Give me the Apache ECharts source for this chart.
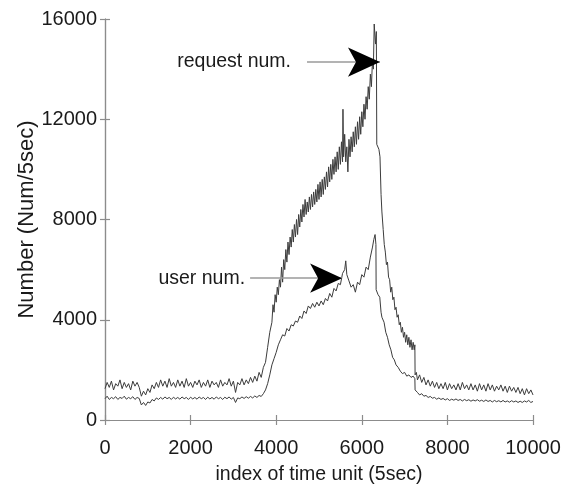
<!DOCTYPE html>
<html>
<head>
<meta charset="utf-8">
<script src="https://cdn.jsdelivr.net/npm/echarts@6/dist/echarts.min.js"></script>
<style>
html,body{margin:0;padding:0;background:#fff;}
#chart{width:567px;height:486px;}
</style>
</head>
<body>
<div id="chart"></div>
<script>
// ---- data (x = index of time unit, y = Num/5sec) ----
var xTicks = [0, 2000, 4000, 6000, 8000, 10000];
var yTicks = [0, 4000, 8000, 12000, 16000];

var requestNum = [
[0,1250],[50,1500],[100,1300],[150,1550],[200,1200],[250,1450],[300,1350],[350,1600],[400,1250],[450,1500],
[500,1300],[550,1450],[600,1200],[650,1550],[700,1350],[750,1500],[800,1300],[850,950],[900,1150],[950,1000],
[1000,1250],[1050,1100],[1100,1400],[1150,1250],[1200,1500],[1250,1300],[1300,1600],[1350,1350],[1400,1550],[1450,1300],
[1500,1650],[1550,1350],[1600,1500],[1650,1300],[1700,1600],[1750,1350],[1800,1550],[1850,1300],[1900,1650],[1950,1350],
[2000,1500],[2050,1300],[2100,1550],[2150,1400],[2200,1600],[2250,1300],[2300,1500],[2350,1350],[2400,1600],[2450,1300],
[2500,1550],[2550,1400],[2600,1500],[2650,1300],[2700,1600],[2750,1350],[2800,1500],[2850,1400],[2900,1650],[2950,1350],
[3000,1550],[3050,1100],[3100,1500],[3150,1400],[3200,1650],[3250,1400],[3300,1600],[3350,1450],[3400,1700],[3450,1500],
[3500,1750],[3550,1550],[3600,1900],[3650,1700],[3700,2100],[3750,2300],[3800,2900],[3850,3500],[3900,3900],[3925,4600],
[3950,4300],[3975,5000],[4000,4700],[4025,5300],[4050,5000],[4075,5600],[4100,5300],[4125,6100],[4150,5500],[4175,6400],
[4200,6000],[4225,6800],[4250,6300],[4275,7100],[4300,6600],[4325,7300],[4350,6900],[4375,7600],[4400,7100],[4425,7800],
[4450,7300],[4475,8000],[4500,7400],[4525,8200],[4550,7700],[4575,8400],[4600,7900],[4625,8600],[4650,8100],[4675,8800],
[4700,8200],[4725,8700],[4750,8300],[4775,8900],[4800,8400],[4825,9000],[4850,8500],[4875,9100],[4900,8600],[4925,9200],
[4950,8700],[4975,9400],[5000,8800],[5025,9500],[5050,8900],[5075,9600],[5100,9000],[5125,9700],[5150,9200],[5175,9900],
[5200,9300],[5225,10100],[5250,9500],[5275,10200],[5300,9600],[5325,10400],[5350,9800],[5375,10500],[5400,9900],[5425,10700],
[5450,10000],[5475,10900],[5500,10200],[5525,11100],[5550,10300],[5560,12400],[5575,10500],[5600,11400],[5625,10300],[5650,10900],
[5675,9900],[5700,11200],[5725,10500],[5750,11300],[5775,10700],[5800,11500],[5825,10900],[5850,11700],[5875,11000],[5900,11900],
[5925,11200],[5950,12100],[5975,11400],[6000,12300],[6025,11700],[6050,12600],[6075,12000],[6100,12900],[6125,12400],[6150,13300],
[6175,12800],[6200,13800],[6225,13300],[6250,14400],[6270,14000],[6290,15800],[6320,15000],[6340,15500],[6350,11000],[6400,10800],
[6425,10500],[6450,9000],[6470,8300],[6500,7600],[6525,7000],[6550,6700],[6575,6200],[6600,6300],[6625,5700],[6650,5600],
[6675,5100],[6700,5300],[6725,4800],[6750,4900],[6775,4400],[6800,4500],[6825,4100],[6850,4200],[6875,3800],[6900,3900],
[6925,3500],[6950,3700],[6975,3300],[7000,3500],[7025,3100],[7050,3400],[7075,3000],[7100,3300],[7125,2900],[7150,3200],
[7175,2800],[7200,3100],[7225,2800],[7240,3000],[7245,1800],[7275,1900],[7300,1600],[7350,1800],[7400,1500],[7450,1700],
[7500,1400],[7550,1600],[7600,1350],[7650,1550],[7700,1300],[7750,1500],[7800,1250],[7850,1450],[7900,1250],[7950,1500],
[8000,1200],[8050,1450],[8100,1250],[8150,1400],[8200,1200],[8250,1450],[8300,1200],[8350,1500],[8400,1250],[8450,1400],
[8500,1200],[8550,1450],[8600,1200],[8650,1400],[8700,1150],[8750,1450],[8800,1200],[8850,1400],[8900,1150],[8950,1450],
[9000,1200],[9050,1400],[9100,1150],[9150,1350],[9200,1200],[9250,1400],[9300,1150],[9350,1350],[9400,1100],[9450,1350],
[9500,1150],[9550,1300],[9600,1100],[9650,1300],[9700,1050],[9750,1250],[9800,1000],[9850,1250],[9900,1050],[9950,1200],
[10000,1000]
];

var userNum = [
[0,850],[50,950],[100,820],[150,900],[200,850],[250,930],[300,820],[350,900],[400,860],[450,950],
[500,830],[550,900],[600,850],[650,930],[700,820],[750,900],[800,860],[850,600],[900,700],[950,580],
[1000,720],[1050,680],[1100,820],[1150,760],[1200,880],[1250,820],[1300,900],[1350,830],[1400,920],[1450,850],
[1500,900],[1550,820],[1600,910],[1650,840],[1700,900],[1750,830],[1800,920],[1850,850],[1900,900],[1950,820],
[2000,910],[2050,840],[2100,900],[2150,830],[2200,920],[2250,850],[2300,900],[2350,820],[2400,910],[2450,840],
[2500,900],[2550,830],[2600,920],[2650,850],[2700,900],[2750,820],[2800,910],[2850,850],[2900,920],[2950,830],
[3000,900],[3050,700],[3100,880],[3150,850],[3200,920],[3250,860],[3300,930],[3350,870],[3400,940],[3450,880],
[3500,960],[3550,900],[3600,980],[3650,940],[3700,1050],[3750,1200],[3800,1450],[3850,1800],[3900,2200],[3950,2450],
[4000,2700],[4050,3000],[4100,3200],[4150,3400],[4200,3350],[4250,3650],[4300,3550],[4350,3800],[4400,3750],[4450,3950],
[4500,3900],[4550,4150],[4600,4050],[4650,4350],[4700,4250],[4750,4550],[4800,4450],[4850,4650],[4900,4500],[4950,4700],
[5000,4550],[5050,4750],[5100,4600],[5150,4850],[5200,4750],[5250,5050],[5300,4900],[5350,5250],[5400,5150],[5450,5450],
[5500,5400],[5550,5850],[5600,6000],[5625,6350],[5650,5800],[5700,5550],[5750,5300],[5800,5400],[5850,5100],[5900,5500],
[5950,5400],[6000,5800],[6050,5700],[6100,6100],[6150,6000],[6200,6500],[6250,6900],[6280,7200],[6310,7400],[6330,7000],
[6335,5200],[6380,5000],[6420,4900],[6450,4300],[6470,4100],[6520,3900],[6560,3500],[6600,3300],[6640,3000],[6680,2800],
[6720,2500],[6760,2400],[6800,2200],[6850,2100],[6900,1950],[6950,1850],[7000,1900],[7050,1750],[7100,1800],[7150,1700],
[7200,1750],[7240,1650],[7245,1200],[7300,1100],[7350,1000],[7400,1050],[7450,950],[7500,980],[7550,900],[7600,940],
[7650,870],[7700,900],[7750,830],[7800,880],[7850,820],[7900,860],[7950,800],[8000,850],[8050,780],[8100,830],
[8150,790],[8200,840],[8250,780],[8300,820],[8350,760],[8400,820],[8450,770],[8500,810],[8550,750],[8600,800],
[8650,760],[8700,810],[8750,750],[8800,790],[8850,740],[8900,800],[8950,740],[9000,780],[9050,720],[9100,780],
[9150,730],[9200,770],[9250,720],[9300,780],[9350,720],[9400,760],[9450,710],[9500,770],[9550,720],[9600,760],
[9650,700],[9700,750],[9750,700],[9800,760],[9850,720],[9900,780],[9950,700],[10000,740]
];

// annotation arrows: [label, startX, tipX, y]
var requestArrow = ['request num.', 4720, 6425, 14280];
var userArrow = ['user num.', 3390, 5540, 5660];

// ---- chart ----
var FONT = 'Liberation Sans, Arial, Helvetica, sans-serif';
var frameColor = '#8c8c8c';
var lineColor = '#3c3c3c';

function arrowMarks(a, gap) {
  return {
    markLine: {
      silent: true,
      symbol: ['none', 'none'],
      lineStyle: { color: '#9a9a9a', width: 1.5, type: 'solid' },
      label: {
        show: true, position: 'start', distance: gap,
        formatter: a[0], color: '#1a1a1a', fontSize: 19.5, fontFamily: FONT
      },
      emphasis: { disabled: true },
      data: [[{ coord: [a[1], a[3]] }, { coord: [a[2], a[3]] }]]
    },
    markPoint: {
      silent: true,
      symbol: 'arrow',
      symbolSize: [22, 32],
      symbolRotate: -90,
      symbolOffset: [0, 0],
      itemStyle: { color: '#000' },
      label: { show: false },
      data: [{ coord: [a[2], a[3]] }]
    }
  };
}

var chart = echarts.init(document.getElementById('chart'), null, { renderer: 'canvas' });

var axisCommon = {
  type: 'value',
  axisLine: { show: true, lineStyle: { color: frameColor, width: 1.2 } },
  axisTick: { show: true, inside: true, length: 5, lineStyle: { color: frameColor, width: 1.2 } },
  splitLine: { show: false }
};
function plain(v) { return String(v); }

var option = {
  animation: false,
  backgroundColor: '#fff',
  grid: { left: 105, right: 34, top: 19, bottom: 66, containLabel: false, outerBoundsMode: 'none' },
  xAxis: [
    Object.assign({}, axisCommon, {
      position: 'bottom', min: xTicks[0], max: xTicks[xTicks.length - 1], interval: 2000,
      name: 'index of time unit (5sec)', nameLocation: 'middle', nameGap: 45, nameMoveOverlap: false,
      nameTextStyle: { color: '#1a1a1a', fontSize: 19.5, fontFamily: FONT },
      axisLabel: { color: '#1a1a1a', fontSize: 20, fontFamily: FONT, margin: 18, formatter: plain }
    }),
    Object.assign({}, axisCommon, {
      position: 'top', min: xTicks[0], max: xTicks[xTicks.length - 1], interval: 2000,
      axisLabel: { show: false }
    })
  ],
  yAxis: [
    Object.assign({}, axisCommon, {
      position: 'left', min: yTicks[0], max: yTicks[yTicks.length - 1], interval: 4000,
      name: 'Number (Num/5sec)', nameLocation: 'middle', nameGap: 67, nameRotate: 90, nameMoveOverlap: false,
      nameTextStyle: { color: '#1a1a1a', fontSize: 22, fontFamily: FONT },
      axisLabel: { color: '#1a1a1a', fontSize: 20, fontFamily: FONT, margin: 8, formatter: plain }
    }),
    Object.assign({}, axisCommon, {
      position: 'right', min: yTicks[0], max: yTicks[yTicks.length - 1], interval: 4000,
      axisLabel: { show: false }
    })
  ],
  series: [
    Object.assign({
      name: 'request num.', type: 'line', xAxisIndex: 0, yAxisIndex: 0,
      data: requestNum, showSymbol: false, symbol: 'none',
      lineStyle: { color: lineColor, width: 1 }, z: 2
    }, arrowMarks(requestArrow, 16)),
    Object.assign({
      name: 'user num.', type: 'line', xAxisIndex: 0, yAxisIndex: 0,
      data: userNum, showSymbol: false, symbol: 'none',
      lineStyle: { color: lineColor, width: 1 }, z: 2
    }, arrowMarks(userArrow, 5))
  ]
};
chart.setOption(option);
</script>
</body>
</html>
